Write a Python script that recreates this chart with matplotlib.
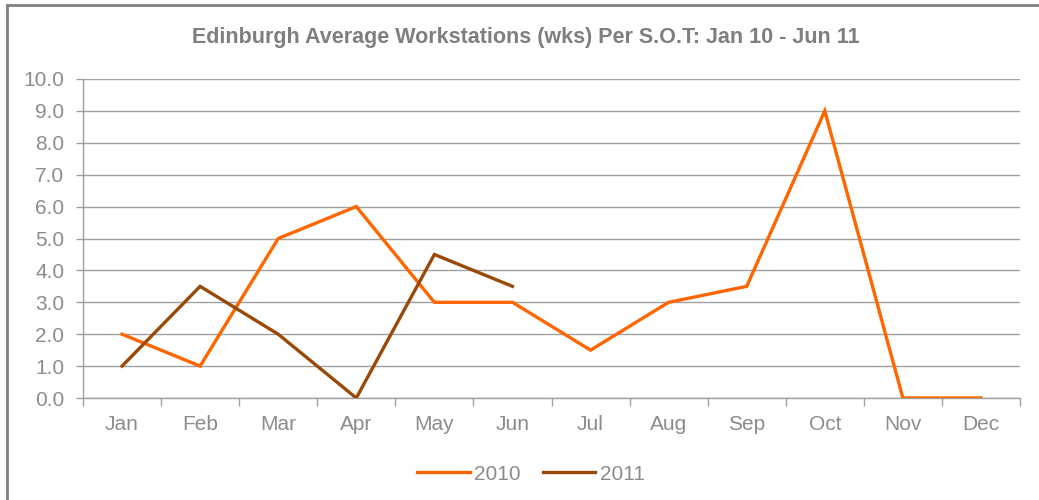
import matplotlib
matplotlib.use("Agg")
import matplotlib.pyplot as plt
from matplotlib.lines import Line2D
import numpy as np

plt.rcParams['font.family'] = ['Liberation Sans', 'DejaVu Sans']

months = ["Jan", "Feb", "Mar", "Apr", "May", "Jun", "Jul", "Aug", "Sep", "Oct", "Nov", "Dec"]
values_2010 = [2.0, 1.0, 5.0, 6.0, 3.0, 3.0, 1.5, 3.0, 3.5, 9.0, 0.0, 0.0]
values_2011 = [1.0, 3.5, 2.0, 0.0, 4.5, 3.5]
title = "Edinburgh Average Workstations (wks) Per S.O.T: Jan 10 - Jun 11"

c2010 = "#FF6600"
c2011 = "#9A4A08"
txt = "#8C8C8C"
grid = "#A0A0A0"

fig = plt.figure(figsize=(10.39, 5.0), dpi=100)
ax = fig.add_axes([83/1039, 1 - 398/500, (1020-83)/1039, (398-79)/500])

x10 = np.arange(len(values_2010))
x11 = np.arange(len(values_2011))
ax.plot(x10, values_2010, color=c2010, lw=2.4, solid_joinstyle='miter', zorder=3)
ax.plot(x11, values_2011, color=c2011, lw=2.4, solid_joinstyle='miter', zorder=3)

ax.set_xlim(-0.5, len(months) - 0.5)
ax.set_ylim(0, 10)
ax.set_yticks(np.arange(0, 11, 1))
ax.set_yticklabels([f"{v:.1f}" for v in range(11)])
ax.set_xticks(np.arange(-0.5, len(months), 1))
ax.set_xticklabels([])
ax.set_xticks(np.arange(len(months)), minor=True)
ax.set_xticklabels(months, minor=True)
ax.tick_params(axis='x', which='major', length=6, color=grid, width=1)
ax.tick_params(axis='x', which='minor', length=0, pad=12, labelsize=15, labelcolor=txt)
ax.tick_params(axis='y', length=5, color=grid, width=1, labelsize=15, labelcolor=txt, pad=8.5)

ax.grid(axis='y', color=grid, lw=1)
ax.set_axisbelow(True)
for s in ['top', 'right']:
    ax.spines[s].set_visible(False)
for s in ['left', 'bottom']:
    ax.spines[s].set_color(grid)
    ax.spines[s].set_linewidth(1)

fig.text(526/1039, 1 - 37/500, title, ha='center', va='center', fontsize=15.5,
         fontweight='bold', color="#7F7F7F")

handles = [Line2D([], [], color=c2010, lw=2.4), Line2D([], [], color=c2011, lw=2.4)]
fig.legend(handles, ["2010", "2011"], loc='center', bbox_to_anchor=(531/1039, 1 - 474/500),
           ncol=2, frameon=False, fontsize=15, labelcolor=txt, handlelength=2.5,
           handletextpad=0.2, columnspacing=1.1)

# outer frame (top and left edges visible)
fig.add_artist(Line2D([7/1039, 7/1039], [0, 1 - 5/500], transform=fig.transFigure, color="#808080", lw=2))
fig.add_artist(Line2D([7/1039, 1], [1 - 5/500, 1 - 5/500], transform=fig.transFigure, color="#808080", lw=2))

fig.savefig("out.png", dpi=100)
